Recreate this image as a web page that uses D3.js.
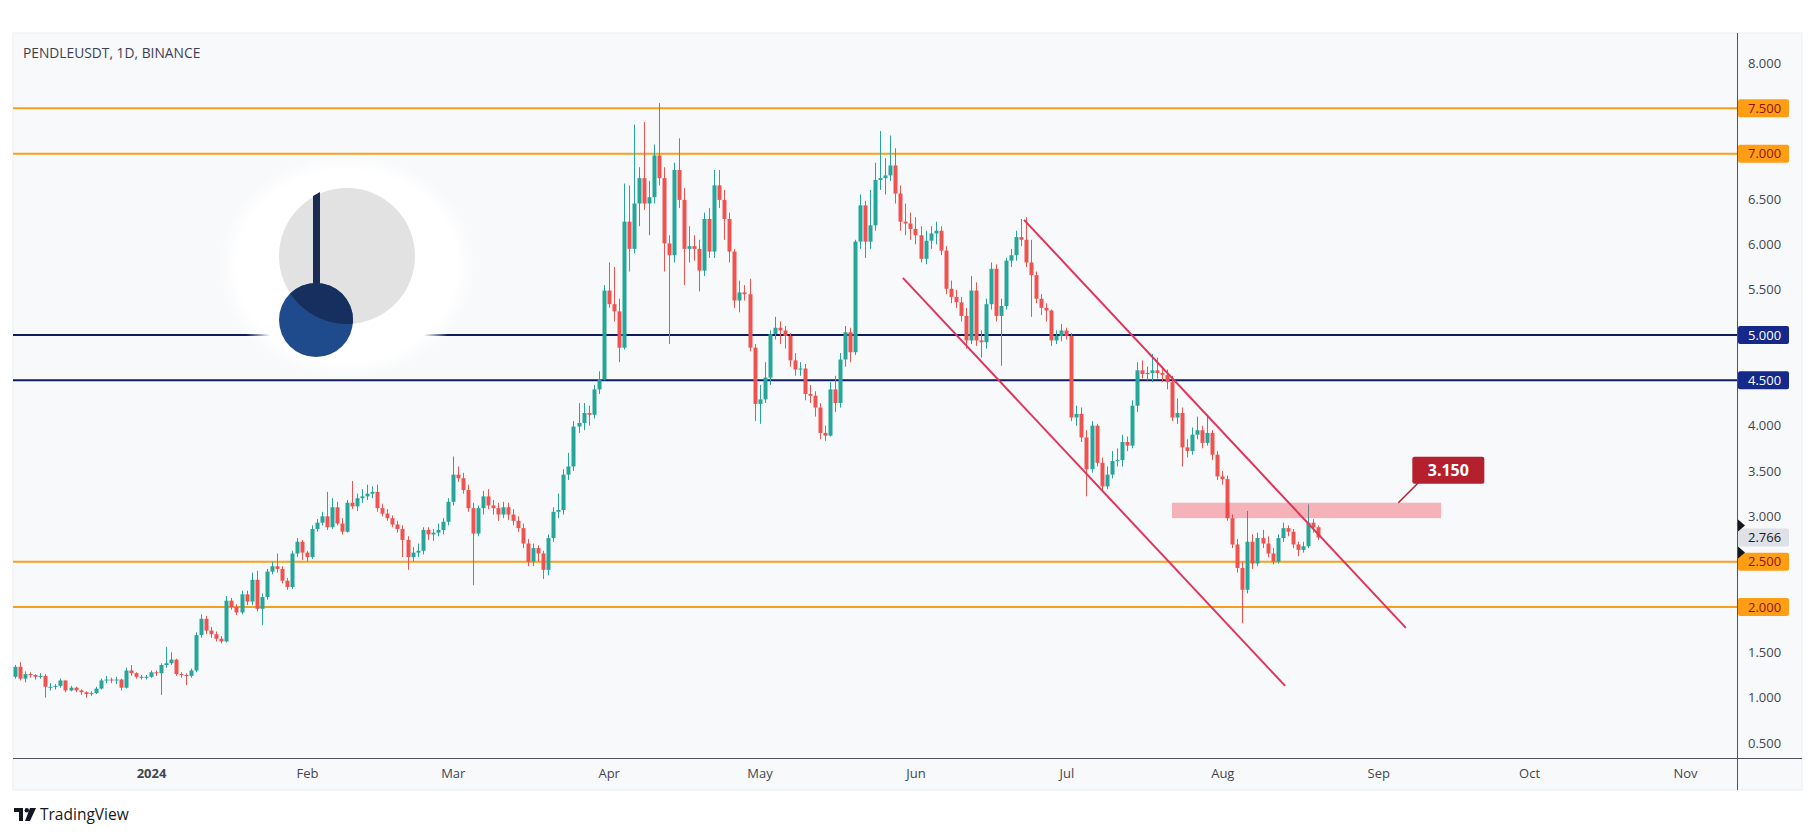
<!DOCTYPE html>
<html>
<head>
<meta charset="utf-8">
<script src="https://cdn.jsdelivr.net/npm/d3@7"></script>
<style>
  html, body { margin: 0; padding: 0; background: #ffffff; }
  svg { display: block; font-family: "Open Sans", "Noto Sans", sans-serif; }
</style>
</head>
<body>
<svg id="chart" width="1815" height="836"></svg>
<script>
// --- data: daily candles as [high, low, close]; open = previous close ---
const firstOpen = 1.23;
const dec2023 = [
  [1.36,1.21,1.34],[1.39,1.19,1.21],[1.29,1.17,1.26],[1.28,1.22,1.25],[1.26,1.20,1.23],
  [1.27,1.21,1.24],[1.26,1.00,1.12],[1.16,1.08,1.12],[1.15,1.09,1.13],[1.21,1.11,1.19],
  [1.19,1.06,1.08],[1.13,1.07,1.11],[1.12,1.06,1.08],[1.09,1.03,1.06],[1.07,1.00,1.04],
  [1.07,1.02,1.05],[1.12,1.04,1.10],[1.21,1.09,1.19],[1.24,1.16,1.20],[1.22,1.16,1.19],
  [1.23,1.15,1.20],[1.21,1.08,1.11],[1.33,1.10,1.30],[1.36,1.24,1.27],[1.28,1.21,1.23],
  [1.25,1.20,1.23],[1.25,1.20,1.23]
];
const jan2024 = [
  [1.30,1.22,1.28],[1.30,1.24,1.27],[1.38,1.03,1.36],[1.56,1.33,1.38],[1.50,1.36,1.42],
  [1.43,1.24,1.26],[1.28,1.22,1.25],[1.27,1.14,1.24],[1.32,1.22,1.30],[1.72,1.28,1.69],
  [1.92,1.66,1.87],[1.90,1.70,1.74],[1.78,1.66,1.70],[1.73,1.62,1.65],[1.68,1.60,1.62],
  [2.12,1.61,2.07],[2.10,1.97,2.00],[2.03,1.91,1.94],[2.18,1.92,2.14],[2.18,2.02,2.06],
  [2.38,2.02,2.30],[2.40,1.95,1.98],[2.15,1.80,2.11],[2.42,2.08,2.39],[2.50,2.36,2.45],
  [2.59,2.38,2.42],[2.45,2.26,2.29],[2.32,2.19,2.22],[2.62,2.20,2.59],[2.76,2.55,2.72],
  [2.74,2.52,2.60]
];
const feb2024 = [
  [2.62,2.50,2.55],[2.90,2.53,2.86],[2.97,2.83,2.93],[3.05,2.90,3.00],[3.27,2.85,2.88],
  [3.20,2.86,3.10],[3.16,2.90,2.92],[2.98,2.80,2.83],[3.18,2.82,3.15],[3.39,3.08,3.11],
  [3.25,3.06,3.20],[3.30,3.15,3.22],[3.35,3.18,3.25],[3.33,3.20,3.27],[3.35,3.05,3.09],
  [3.14,3.00,3.03],[3.08,2.95,2.98],[3.01,2.88,2.91],[2.95,2.82,2.86],[2.90,2.55,2.74],
  [2.78,2.41,2.55],[2.66,2.50,2.60],[2.70,2.55,2.62],[2.88,2.58,2.85],[2.88,2.74,2.80],
  [2.86,2.73,2.82],[2.92,2.78,2.85],[2.98,2.80,2.94],[3.20,2.90,3.16]
];
const mar2024 = [
  [3.66,3.12,3.46],[3.55,3.38,3.42],[3.48,3.25,3.29],[3.35,3.05,3.09],[3.15,2.24,2.81],
  [3.12,2.78,3.09],[3.28,3.02,3.22],[3.30,3.08,3.12],[3.18,3.02,3.09],[3.15,2.95,3.02],
  [3.16,2.98,3.10],[3.15,2.96,3.02],[3.08,2.90,2.95],[3.00,2.83,2.87],[2.92,2.65,2.70],
  [2.75,2.45,2.50],[2.70,2.45,2.65],[2.68,2.50,2.59],[2.62,2.31,2.41],[2.80,2.35,2.76],
  [3.10,2.72,3.05],[3.25,2.98,3.07],[3.52,3.02,3.46],[3.70,3.40,3.55],[4.05,3.50,3.99],
  [4.25,3.92,4.03],[4.25,3.95,4.14],[4.22,4.00,4.12],[4.45,4.08,4.40],[4.60,4.35,4.51],
  [5.55,4.50,5.49]
];
const apr2024 = [
  [5.80,5.30,5.34],[5.75,5.15,5.26],[5.40,4.70,4.86],[6.67,4.84,6.25],[6.65,5.70,5.95],
  [7.32,5.90,6.45],[6.85,6.20,6.73],[7.35,6.38,6.45],[6.70,6.10,6.52],[7.10,6.45,6.98],
  [7.56,6.65,6.73],[6.85,5.70,6.01],[6.10,4.90,5.88],[6.90,5.80,6.82],[7.17,6.40,6.49],
  [6.62,5.55,5.95],[6.20,5.80,5.98],[6.10,5.82,5.95],[6.05,5.48,5.71],[6.35,5.65,6.28],
  [6.40,5.85,5.92],[6.82,5.85,6.65],[6.82,6.40,6.49],[6.60,6.05,6.28],[6.35,5.80,5.92],
  [5.95,5.30,5.38],[5.60,5.25,5.47],[5.55,5.38,5.45],[5.62,4.82,4.86],[4.90,4.05,4.24]
];
const may2024 = [
  [4.45,4.02,4.29],[4.70,4.25,4.53],[5.05,4.45,5.01],[5.20,4.95,5.08],[5.15,4.90,5.05],
  [5.10,4.85,4.99],[5.02,4.65,4.72],[4.80,4.55,4.62],[4.70,4.55,4.63],[4.68,4.28,4.35],
  [4.45,4.25,4.33],[4.38,4.10,4.20],[4.25,3.85,3.92],[4.00,3.83,3.89],[4.48,3.88,4.40],
  [4.55,4.15,4.25],[4.80,4.20,4.73],[5.10,4.65,5.03],[5.08,4.70,4.81],[6.05,4.78,6.03],
  [6.55,5.95,6.43],[6.48,5.85,6.03],[6.60,5.95,6.21],[6.90,6.15,6.71],[7.25,6.60,6.73],
  [6.95,6.55,6.76],[7.20,6.70,6.87],[7.06,6.45,6.56],[6.65,6.15,6.25],[6.45,6.10,6.23],
  [6.35,6.05,6.17]
];
const jun2024 = [
  [6.30,6.00,6.10],[6.20,5.80,5.84],[6.15,5.78,6.04],[6.20,5.95,6.12],[6.25,6.00,6.15],
  [6.20,5.88,5.93],[5.98,5.45,5.51],[5.60,5.35,5.42],[5.50,5.30,5.36],[5.42,5.15,5.21],
  [5.30,4.85,4.94],[5.65,4.90,5.49],[5.58,4.88,4.94],[5.05,4.75,4.92],[5.40,4.85,5.34],
  [5.80,5.28,5.73],[5.78,5.15,5.21],[5.40,4.66,5.32],[5.85,5.28,5.82],[5.95,5.75,5.88],
  [6.15,5.82,6.08],[6.28,5.98,6.05],[6.30,5.75,5.80],[6.05,5.20,5.66],[5.70,5.35,5.40],
  [5.45,5.22,5.30],[5.35,5.15,5.27],[5.28,4.88,4.94],[5.05,4.90,4.99],[5.12,4.93,5.05]
];
const jul2024 = [
  [5.08,4.95,4.99],[5.02,4.05,4.09],[4.22,4.00,4.13],[4.20,3.82,3.87],[3.95,3.22,3.52],
  [4.05,3.48,4.00],[4.02,3.55,3.59],[3.65,3.28,3.33],[3.55,3.30,3.46],[3.72,3.42,3.61],
  [3.75,3.55,3.62],[3.90,3.55,3.82],[3.88,3.72,3.78],[4.28,3.75,4.22],[4.70,4.15,4.61],
  [4.72,4.52,4.57],[4.65,4.50,4.58],[4.79,4.48,4.61],[4.75,4.52,4.58],[4.65,4.48,4.56],
  [4.62,4.40,4.48],[4.55,4.05,4.09],[4.30,4.02,4.14],[4.20,3.55,3.76],[3.85,3.65,3.72],
  [3.98,3.68,3.90],[4.10,3.85,3.95],[4.00,3.75,3.81],[4.12,3.78,3.92],[3.95,3.62,3.68],
  [3.72,3.40,3.44]
];
const aug2024 = [
  [3.50,3.35,3.41],[3.45,2.95,2.98],[3.02,2.65,2.69],[2.75,2.38,2.43],[2.50,1.82,2.19],
  [3.06,2.15,2.72],[2.80,2.42,2.48],[2.82,2.45,2.76],[2.85,2.65,2.70],[2.78,2.55,2.59],
  [2.65,2.47,2.50],[2.80,2.48,2.76],[2.93,2.72,2.87],[2.90,2.78,2.83],[2.86,2.65,2.69],
  [2.72,2.56,2.63],[2.72,2.60,2.67],[3.13,2.65,2.93],[2.97,2.82,2.88],[2.90,2.74,2.766]
];
const firstDay = "2023-12-05";

// levels, annotations, ticks
const orangeLevels = [7.5, 7.0, 2.5, 2.0];
const navyLevels = [5.0, 4.5];
const lastPrice = 2.766;
const axisMarkers = [2.90, 2.60];
const priceTicks = [0.5, 1, 1.5, 2, 2.5, 3, 3.5, 4, 4.5, 5, 5.5, 6, 6.5, 7, 7.5, 8];
const monthTicks = ["2024-01-01","2024-02-01","2024-03-01","2024-04-01","2024-05-01","2024-06-01",
                    "2024-07-01","2024-08-01","2024-09-01","2024-10-01","2024-11-01"];
const monthLabels = ["2024","Feb","Mar","Apr","May","Jun","Jul","Aug","Sep","Oct","Nov"];
const channelUpper = [["2024-06-22T14:00:00Z", 6.27], ["2024-09-06T12:00:00Z", 1.77]];
const channelLower = [["2024-05-29T12:00:00Z", 5.63], ["2024-08-13T12:00:00Z", 1.13]];
const zoneDates = ["2024-07-22T00:00:00Z", "2024-09-13T12:00:00Z"];
const zonePrices = [2.98, 3.15];
const calloutLabel = "3.150";
const calloutPoint = ["2024-09-05T00:00:00Z", 3.15];
const title = "PENDLEUSDT, 1D, BINANCE";

// --- layout ---
const svg = d3.select("#chart");
const panel = { left: 13, top: 33, right: 1802, bottom: 790 };
const plotRight = 1737, plotBottom = 758;
const UP = "#26a69a", DOWN = "#ef5350";

const x = d3.scaleUtc()
  .domain([new Date("2023-12-05T00:00:00Z"), new Date("2024-11-01T00:00:00Z")])
  .range([15.2, 1685]);
const y = d3.scaleLinear().domain([0.5, 8]).range([743, 63]);

let prevClose = firstOpen;
const start = new Date(firstDay + "T00:00:00Z");
const candles = [dec2023, jan2024, feb2024, mar2024, apr2024, may2024, jun2024, jul2024, aug2024]
  .flat()
  .map((d, i) => {
    const c = { date: d3.utcDay.offset(start, i), open: prevClose, high: d[0], low: d[1], close: d[2] };
    prevClose = d[2];
    return c;
  });

// panel background
svg.append("rect")
  .attr("x", panel.left).attr("y", panel.top)
  .attr("width", panel.right - panel.left).attr("height", panel.bottom - panel.top)
  .attr("fill", "#f8f9fb").attr("stroke", "#eceef2");

svg.append("defs").append("clipPath").attr("id", "plot-clip")
  .append("rect").attr("x", panel.left).attr("y", panel.top)
  .attr("width", plotRight - panel.left).attr("height", plotBottom - panel.top);

const defs = svg.select("defs");
const glow = defs.append("radialGradient").attr("id", "glow");
glow.append("stop").attr("offset", "0%").attr("stop-color", "#ffffff").attr("stop-opacity", 1);
glow.append("stop").attr("offset", "86%").attr("stop-color", "#ffffff").attr("stop-opacity", 1);
glow.append("stop").attr("offset", "100%").attr("stop-color", "#ffffff").attr("stop-opacity", 0);

const plot = svg.append("g").attr("clip-path", "url(#plot-clip)");

// horizontal levels
plot.selectAll(".lvl-o").data(orangeLevels).join("line")
  .attr("x1", panel.left).attr("x2", plotRight)
  .attr("y1", d => y(d)).attr("y2", d => y(d))
  .attr("stroke", "#f5a11c").attr("stroke-width", 2);
plot.selectAll(".lvl-n").data(navyLevels).join("line")
  .attr("x1", panel.left).attr("x2", plotRight)
  .attr("y1", d => y(d)).attr("y2", d => y(d))
  .attr("stroke", "#0f1d5e").attr("stroke-width", 2);

// watermark logo with white glow
const wm = plot.append("g");
wm.append("ellipse").attr("cx", 347).attr("cy", 266).attr("rx", 128).attr("ry", 112)
  .attr("fill", "url(#glow)");
wm.append("circle").attr("cx", 347).attr("cy", 256).attr("r", 68).attr("fill", "#e2e2e2");
defs.append("clipPath").attr("id", "wm-clip")
  .append("circle").attr("cx", 347).attr("cy", 256).attr("r", 68);
wm.append("path").attr("d", "M313,196 L320,192 L320,292 L313,292 Z").attr("fill", "#182c55");
wm.append("circle").attr("cx", 316).attr("cy", 320).attr("r", 37).attr("fill", "#1f4a8c");
wm.append("circle").attr("cx", 316).attr("cy", 320).attr("r", 37).attr("fill", "#172f5f")
  .attr("clip-path", "url(#wm-clip)");

// candles
const bw = 4;
const cg = plot.append("g");
cg.selectAll("line").data(candles).join("line")
  .attr("x1", d => Math.round(x(d.date)) + 0.5).attr("x2", d => Math.round(x(d.date)) + 0.5)
  .attr("y1", d => y(d.high)).attr("y2", d => y(d.low))
  .attr("stroke", d => d.close >= d.open ? UP : DOWN).attr("stroke-width", 1);
cg.selectAll("rect").data(candles).join("rect")
  .attr("x", d => Math.round(x(d.date)) + 0.5 - bw / 2)
  .attr("width", bw)
  .attr("y", d => y(Math.max(d.open, d.close)))
  .attr("height", d => Math.max(1, Math.abs(y(d.open) - y(d.close))))
  .attr("fill", d => d.close >= d.open ? UP : DOWN);

// resistance zone
plot.append("rect")
  .attr("x", x(new Date(zoneDates[0]))).attr("width", x(new Date(zoneDates[1])) - x(new Date(zoneDates[0])))
  .attr("y", y(zonePrices[1])).attr("height", y(zonePrices[0]) - y(zonePrices[1]))
  .attr("fill", "#f23645").attr("fill-opacity", 0.36);

// descending channel
const trend = d3.line().x(d => x(new Date(d[0]))).y(d => y(d[1]));
[channelUpper, channelLower].forEach(seg => {
  plot.append("path").attr("d", trend(seg))
    .attr("fill", "none").attr("stroke", "#e2345b").attr("stroke-width", 2);
});

// callout
const cx0 = x(new Date(calloutPoint[0])), cy0 = y(calloutPoint[1]);
const callout = plot.append("g");
callout.append("line").attr("x1", cx0).attr("y1", cy0).attr("x2", cx0 + 20).attr("y2", cy0 - 20)
  .attr("stroke", "#b5202e").attr("stroke-width", 1.5);
callout.append("rect").attr("x", cx0 + 14).attr("y", cy0 - 46).attr("width", 72).attr("height", 27)
  .attr("rx", 2).attr("fill", "#b5202e");
callout.append("text").attr("x", cx0 + 50).attr("y", cy0 - 27).attr("text-anchor", "middle")
  .attr("fill", "#ffffff").attr("font-size", 16).attr("font-weight", 700).text(calloutLabel);

// axes frame
svg.append("line").attr("x1", plotRight + 0.5).attr("x2", plotRight + 0.5)
  .attr("y1", panel.top).attr("y2", panel.bottom).attr("stroke", "#50535e");
svg.append("line").attr("x1", panel.left).attr("x2", panel.right)
  .attr("y1", plotBottom + 0.5).attr("y2", plotBottom + 0.5).attr("stroke", "#50535e");

// price axis
const yAxis = svg.append("g").attr("transform", `translate(${plotRight},0)`)
  .call(d3.axisRight(y).tickValues(priceTicks).tickFormat(d3.format(".3f")).tickSize(0).tickPadding(11));
yAxis.select(".domain").remove();
yAxis.selectAll("text").attr("fill", "#434651").attr("font-size", 13)
  .attr("font-family", "'Open Sans', sans-serif");

function priceBox(v, bg, fg) {
  const g = svg.append("g");
  g.append("rect").attr("x", plotRight + 1).attr("y", y(v) - 9).attr("width", 51).attr("height", 18)
    .attr("rx", 2).attr("fill", bg);
  g.append("text").attr("x", plotRight + 11).attr("y", y(v)).attr("dy", "0.35em")
    .attr("fill", fg).attr("font-size", 13).text(d3.format(".3f")(v));
}
orangeLevels.forEach(v => priceBox(v, "#ff9d14", "#8a1414"));
navyLevels.forEach(v => priceBox(v, "#14298a", "#ffffff"));
priceBox(lastPrice, "#dfe1e6", "#131722");

svg.selectAll(".marker").data(axisMarkers).join("path")
  .attr("d", d => `M${plotRight + 1},${y(d) - 6} L${plotRight + 8},${y(d)} L${plotRight + 1},${y(d) + 6} Z`)
  .attr("fill", "#131722");

// time axis
const xAxis = svg.append("g").attr("transform", `translate(0,${plotBottom})`)
  .call(d3.axisBottom(x)
    .tickValues(monthTicks.map(d => new Date(d + "T00:00:00Z")))
    .tickFormat((d, i) => monthLabels[i]).tickSize(0).tickPadding(11));
xAxis.select(".domain").remove();
xAxis.selectAll("text").attr("fill", "#434651").attr("font-size", 13)
  .attr("font-family", "'Open Sans', sans-serif")
  .attr("font-weight", (d, i) => i === 0 ? 700 : 400);

// header
svg.append("text").attr("x", 23).attr("y", 58).attr("fill", "#3d4150")
  .attr("font-size", 13.8).text(title);

// TradingView mark
const tv = svg.append("g").attr("fill", "#131722");
tv.append("path").attr("d", "M14,808 h9 v13 h-4 v-9 h-5 z");
tv.append("circle").attr("cx", 26.8).attr("cy", 810.2).attr("r", 2.2);
tv.append("path").attr("d", "M30,808 h6 l-6,13 h-5 z");
tv.append("text").attr("x", 40).attr("y", 820).attr("font-size", 15.5).text("TradingView");
</script>
</body>
</html>
